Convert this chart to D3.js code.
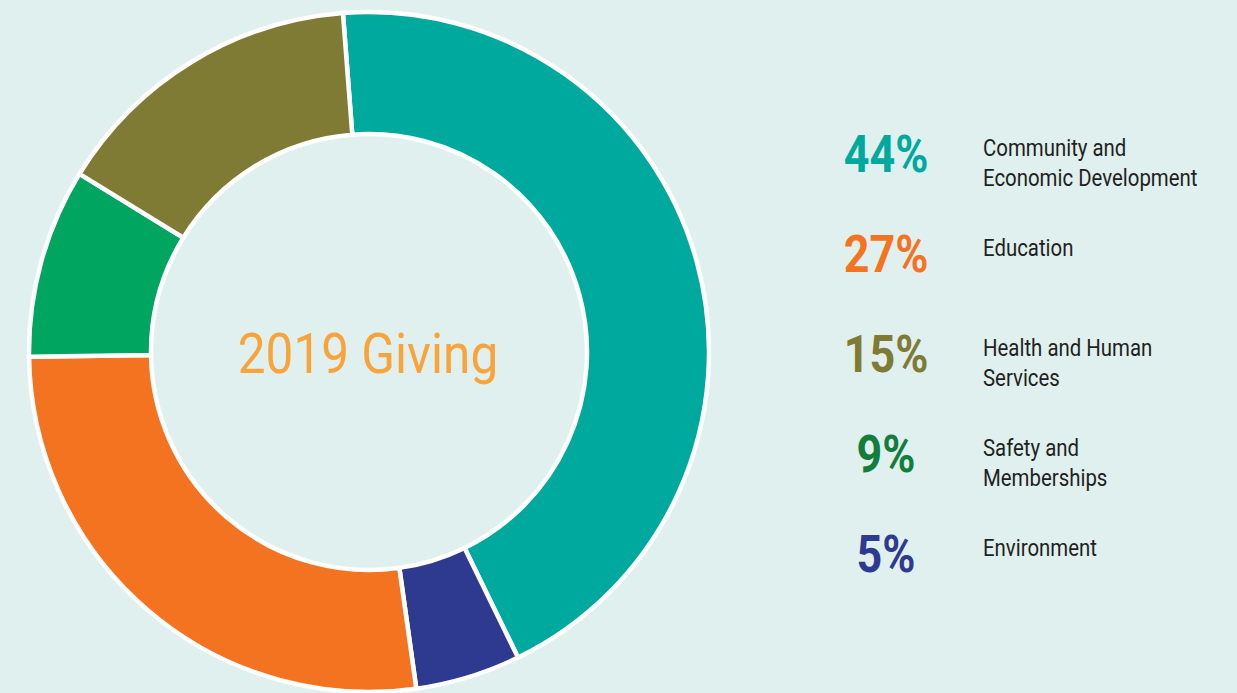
<!DOCTYPE html>
<html>
<head>
<meta charset="utf-8">
<script src="https://cdn.jsdelivr.net/npm/d3@7"></script>
<style>
  html, body { margin: 0; padding: 0; background: #dff0ee; }
  svg { display: block; }
  text { font-family: Roboto, "Liberation Sans", sans-serif; }
</style>
</head>
<body>
<svg id="chart" width="1237" height="693"></svg>
<script>
// Giving categories, in drawing order (clockwise from the top)
const categories = ["Community and Economic Development", "Environment", "Education", "Safety and Memberships", "Health and Human Services"];
const shares = [44, 5, 27, 9, 15];
const sliceColors = ["#00a99d", "#2e3a8f", "#f37321", "#00a55f", "#7f7a34"];

// Legend rows, top to bottom
const legendPct = [44, 27, 15, 9, 5];
const legendLines = [
  ["Community and", "Economic Development"],
  ["Education"],
  ["Health and Human", "Services"],
  ["Safety and", "Memberships"],
  ["Environment"]
];
const legendColors = ["#00a99d", "#f37321", "#7f7a34", "#137d3c", "#2e3a8f"];
const title = "2019 Giving";

const svg = d3.select("#chart");
const W = 1237, H = 693;
svg.append("rect").attr("width", W).attr("height", H).attr("fill", "#dff0ee");

const cx = 369, cy = 352, rOuter = 340, rInner = 218;
const start = -4.4 * Math.PI / 180;

const pie = d3.pie().sort(null).value(d => d)
  .startAngle(start).endAngle(start + 2 * Math.PI);
const arc = d3.arc().innerRadius(rInner).outerRadius(rOuter);

const g = svg.append("g").attr("transform", `translate(${cx},${cy})`);
g.selectAll("path")
  .data(pie(shares))
  .join("path")
  .attr("d", arc)
  .attr("fill", (d, i) => sliceColors[i])
  .attr("stroke", "#ffffff")
  .attr("stroke-width", 4.5)
  .attr("stroke-linejoin", "miter");

// Centre title, narrowed horizontally for a condensed look
g.append("g")
  .attr("transform", "translate(-1,21) scale(0.9,1)")
  .append("text")
  .attr("text-anchor", "middle")
  .attr("font-size", 55)
  .attr("fill", "#f9a43a")
  .text(title);

// Legend
const rowY = d3.scaleBand().domain(d3.range(legendPct.length)).range([172, 672]).align(0);
const rows = svg.append("g").selectAll("g.row")
  .data(legendPct)
  .join("g")
  .attr("class", "row")
  .attr("transform", (d, i) => `translate(0,${rowY(i)})`);

rows.append("g")
  .attr("transform", "translate(886,0) scale(0.88,1)")
  .append("text")
  .attr("text-anchor", "middle")
  .attr("font-size", 51)
  .attr("font-weight", "bold")
  .attr("fill", (d, i) => legendColors[i])
  .text(d => d + "%");

rows.append("g")
  .attr("transform", "translate(983,0) scale(0.85,1)")
  .append("text")
  .attr("font-size", 24)
  .attr("fill", "#231f20")
  .each(function(d, i) {
    d3.select(this).selectAll("tspan")
      .data(legendLines[i])
      .join("tspan")
      .attr("x", 0)
      .attr("y", (t, j) => -16 + j * 30)
      .text(t => t);
  });
</script>
</body>
</html>
